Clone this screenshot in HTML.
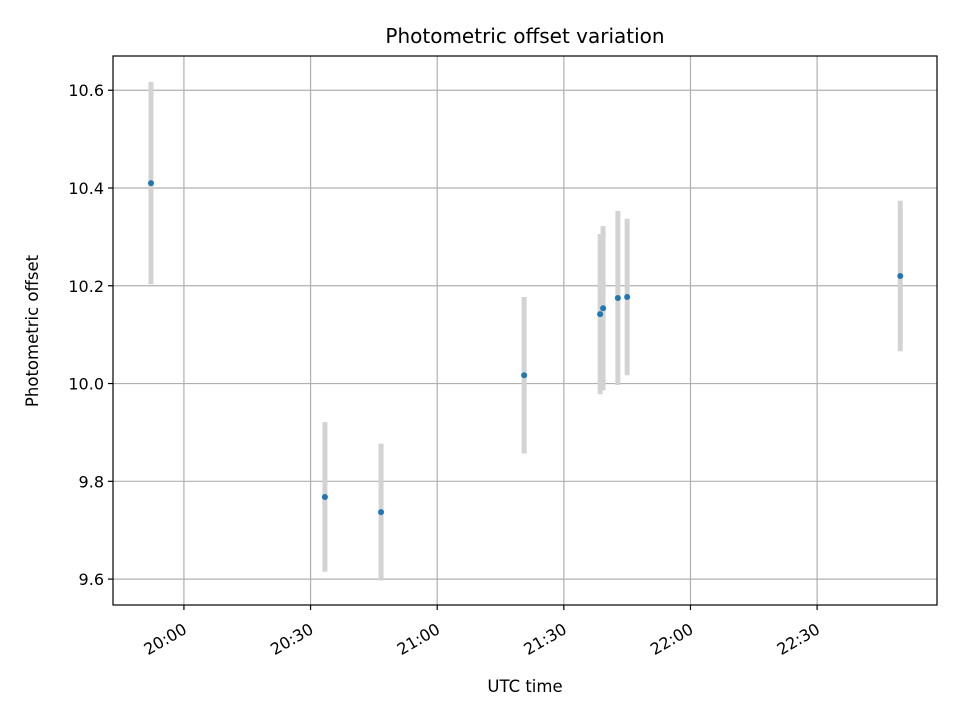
<!DOCTYPE html>
<html><head><meta charset="utf-8"><style>
body{margin:0;background:#fff;}
svg text{font-family:"DejaVu Sans","Liberation Sans",sans-serif;fill:#000;}
</style></head><body>
<svg id="chart" width="960" height="720" xmlns="http://www.w3.org/2000/svg">
<text x="525" y="43" font-size="20" text-anchor="middle">Photometric offset variation</text>
<g id="grid"></g>
<g id="marks"></g>
<rect x="113" y="56" width="824" height="549" fill="none" stroke="#000" stroke-width="1.2"/>
<g id="axes"></g>
<text x="525" y="692" font-size="16.5" text-anchor="middle">UTC time</text>
<text transform="translate(38,331) rotate(-90)" font-size="16.5" text-anchor="middle">Photometric offset</text>
</svg>
<script>
// minutes after 20:00 UTC
const times = [-7.8, 33.4, 46.7, 80.6, 98.6, 99.3, 102.8, 105.0, 169.7];
const offsets = [10.41, 9.768, 9.737, 10.017, 10.142, 10.154, 10.175, 10.177, 10.220];
const errors = [0.207, 0.153, 0.14, 0.16, 0.164, 0.168, 0.178, 0.16, 0.154];
const xTickValues = [0, 30, 60, 90, 120, 150];
const xTickLabels = ["20:00", "20:30", "21:00", "21:30", "22:00", "22:30"];
const yTickValues = [9.6, 9.8, 10.0, 10.2, 10.4, 10.6];
const yTickLabels = ["9.6", "9.8", "10.0", "10.2", "10.4", "10.6"];

const L=113,R=937,T=56,B=605;
const xMin=-16.8,xMax=178.4,yMin=9.547,yMax=10.670;
const xs=v=>L+(v-xMin)/(xMax-xMin)*(R-L);
const ys=v=>B-(v-yMin)/(yMax-yMin)*(B-T);
const NS="http://www.w3.org/2000/svg";
function mk(tag,attrs,parent){const e=document.createElementNS(NS,tag);for(const k in attrs)e.setAttribute(k,attrs[k]);parent.appendChild(e);return e;}
const grid=document.getElementById('grid'),marks=document.getElementById('marks'),axes=document.getElementById('axes');
xTickValues.forEach((v,i)=>{
  const x=xs(v);
  const g=mk('line',{x1:x,x2:x,y1:T,y2:B,stroke:'#b0b0b0','stroke-width':1.2},grid);
  
  
  const t=mk('line',{x1:x,x2:x,y1:B,y2:B+5,stroke:'#000','stroke-width':1.2},axes);
  
  
  const ax=x-2, ay=B+17;
  const lb=mk('text',{x:ax,y:ay,'font-size':16,'text-anchor':'end',transform:`rotate(-30 ${ax} ${ay})`,'dominant-baseline':'hanging'},axes);
  lb.textContent=xTickLabels[i];
  
  
});
yTickValues.forEach((v,i)=>{
  const y=ys(v);
  const g=mk('line',{x1:L,x2:R,y1:y,y2:y,stroke:'#b0b0b0','stroke-width':1.2},grid);
  
  
  const t=mk('line',{x1:L-5,x2:L,y1:y,y2:y,stroke:'#000','stroke-width':1.2},axes);
  
  
  const lb=mk('text',{x:L-9,y:y+6,'font-size':16,'text-anchor':'end'},axes);
  lb.textContent=yTickLabels[i];
  
  
});
times.forEach((t,i)=>{
  const x=xs(t);
  const e=mk('line',{x1:x,x2:x,y1:ys(offsets[i]+errors[i]),y2:ys(offsets[i]-errors[i]),stroke:'#d3d3d3','stroke-width':5},marks);
  
  
});
times.forEach((t,i)=>{
  const c=mk('circle',{cx:xs(t),cy:ys(offsets[i]),r:3,fill:'#1f77b4'},marks);
  
  
});
</script>
</body></html>
